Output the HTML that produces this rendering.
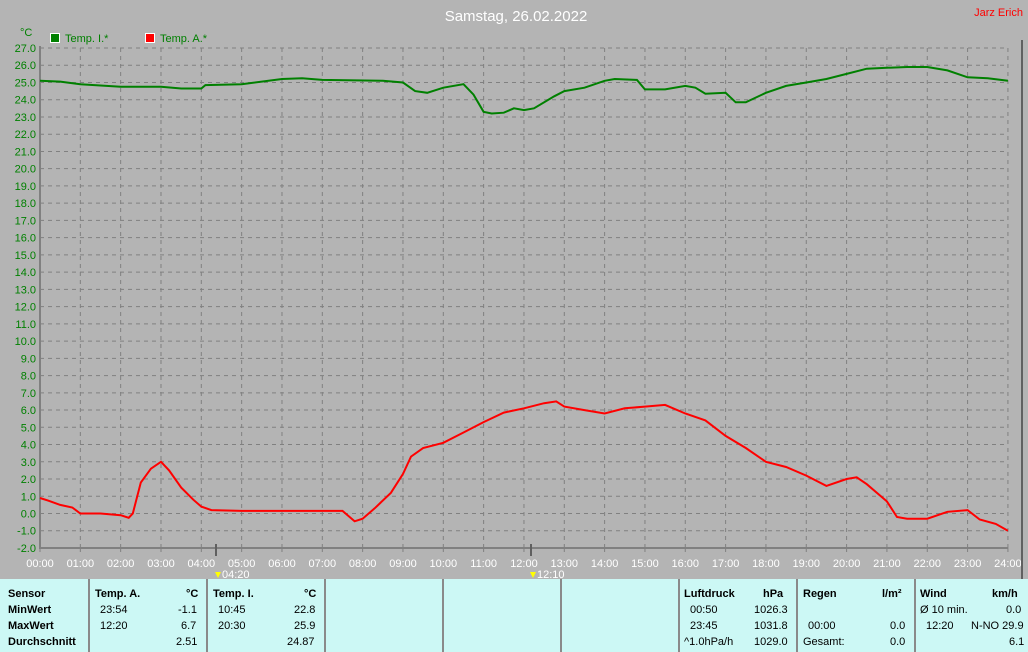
<!DOCTYPE html>
<html><head><meta charset="utf-8"><style>
body{margin:0;width:1028px;height:652px;background:#b4b4b4;overflow:hidden;font-family:"Liberation Sans",sans-serif}
svg{position:absolute;left:0;top:0}
.tb{position:absolute;left:0;top:579px;width:1028px;height:73px;background:#ccf8f5;font-size:11px;color:#000}
.col{position:absolute;top:0;height:73px;border-left:2px solid #8a8a8a}
.r{position:absolute;white-space:nowrap}
.b{font-weight:bold}
</style></head><body>
<svg width="1028" height="580" id="s" font-family="Liberation Sans, sans-serif"></svg>
<div class="tb">
<div class="col" style="left:88px"></div><div class="col" style="left:206px"></div><div class="col" style="left:324px"></div><div class="col" style="left:442px"></div><div class="col" style="left:560px"></div><div class="col" style="left:678px"></div><div class="col" style="left:796px"></div><div class="col" style="left:914px"></div>
<div class="r b" style="left:8px;top:9px">Sensor</div><div class="r b" style="left:8px;top:25px">MinWert</div><div class="r b" style="left:8px;top:41px">MaxWert</div><div class="r b" style="left:8px;top:57px">Durchschnitt</div>
<div class="r b" style="left:95px;top:9px">Temp. A.</div><div class="r b" style="left:186px;top:9px">°C</div>
<div class="r" style="left:100px;top:25px">23:54</div><div class="r" style="left:178px;top:25px">-1.1</div>
<div class="r" style="left:100px;top:41px">12:20</div><div class="r" style="left:181px;top:41px">6.7</div>
<div class="r" style="left:176px;top:57px">2.51</div>
<div class="r b" style="left:213px;top:9px">Temp. I.</div><div class="r b" style="left:304px;top:9px">°C</div>
<div class="r" style="left:218px;top:25px">10:45</div><div class="r" style="left:294px;top:25px">22.8</div>
<div class="r" style="left:218px;top:41px">20:30</div><div class="r" style="left:294px;top:41px">25.9</div>
<div class="r" style="left:287px;top:57px">24.87</div>
<div class="r b" style="left:684px;top:9px">Luftdruck</div><div class="r b" style="left:763px;top:9px">hPa</div>
<div class="r" style="left:690px;top:25px">00:50</div><div class="r" style="left:754px;top:25px">1026.3</div>
<div class="r" style="left:690px;top:41px">23:45</div><div class="r" style="left:754px;top:41px">1031.8</div>
<div class="r" style="left:684px;top:57px">^1.0hPa/h</div><div class="r" style="left:754px;top:57px">1029.0</div>
<div class="r b" style="left:803px;top:9px">Regen</div><div class="r b" style="left:882px;top:9px">l/m²</div>
<div class="r" style="left:808px;top:41px">00:00</div><div class="r" style="left:890px;top:41px">0.0</div>
<div class="r" style="left:803px;top:57px">Gesamt:</div><div class="r" style="left:890px;top:57px">0.0</div>
<div class="r b" style="left:920px;top:9px">Wind</div><div class="r b" style="left:992px;top:9px">km/h</div>
<div class="r" style="left:920px;top:25px">Ø 10 min.</div><div class="r" style="left:1006px;top:25px">0.0</div>
<div class="r" style="left:926px;top:41px">12:20</div><div class="r" style="left:971px;top:41px">N-NO 29.9</div>
<div class="r" style="left:1009px;top:57px">6.1</div>
</div>
<script>
var s=document.getElementById('s'),h='';
function X(t){return 40+t*40.33}function Y(v){return 48+(27-v)*17.241}
for(var i=1;i<=24;i++)h+='<line x1="'+X(i)+'" y1="48" x2="'+X(i)+'" y2="548" stroke="#808080" stroke-dasharray="4,4"/>';
for(var v=-2;v<=27;v++){h+='<line x1="40" y1="'+Y(v)+'" x2="1008" y2="'+Y(v)+'" stroke="#808080" stroke-dasharray="4,4"/>';
h+='<text x="36" y="'+(Y(v)+4)+'" text-anchor="end" font-size="11" fill="#008000">'+v.toFixed(1)+'</text>';}
for(var i=0;i<=24;i++){h+='<line x1="'+X(i)+'" y1="548" x2="'+X(i)+'" y2="552" stroke="#808080"/>';
h+='<text x="'+X(i)+'" y="567" text-anchor="middle" font-size="11" fill="#fff">'+(i<10?'0':'')+i+':00</text>';}
h+='<line x1="40" y1="46" x2="40" y2="549" stroke="#808080" stroke-width="2"/><line x1="39" y1="548" x2="1008" y2="548" stroke="#808080" stroke-width="2"/>';
h+='<line x1="1022" y1="40" x2="1022" y2="580" stroke="#606060" stroke-width="2"/>';
h+='<line x1="216" y1="544" x2="216" y2="556" stroke="#606060" stroke-width="2"/><line x1="531" y1="544" x2="531" y2="556" stroke="#606060" stroke-width="2"/>';
h+='<text x="222" y="578" font-size="11" fill="#fff">04:20</text><text x="537" y="578" font-size="11" fill="#fff">12:10</text>';
h+='<polygon points="218,578 215,572 221,572" fill="#ff0"/><polygon points="533,578 530,572 536,572" fill="#ff0"/>';
h+='<text x="516" y="21" text-anchor="middle" font-size="15" fill="#fff">Samstag, 26.02.2022</text>';
h+='<text x="1023" y="16" text-anchor="end" font-size="11" fill="#f00">Jarz Erich</text>';
h+='<text x="20" y="36" font-size="11" fill="#008000">°C</text>';
h+='<rect x="50.5" y="33.5" width="9" height="9" fill="#008000" stroke="#fff"/><text x="65" y="42" font-size="11" fill="#008000">Temp. I.*</text>';
h+='<rect x="145.5" y="33.5" width="9" height="9" fill="#f00" stroke="#fff"/><text x="160" y="42" font-size="11" fill="#008000">Temp. A.*</text>';
var g=[0,25.1,.5,25.05,1,24.9,2,24.75,3,24.75,3.5,24.65,4,24.65,4.1,24.85,5,24.9,6,25.2,6.5,25.25,7,25.15,8.5,25.1,9,25.0,9.3,24.5,9.6,24.4,10,24.7,10.5,24.9,10.75,24.3,11,23.3,11.2,23.2,11.5,23.25,11.75,23.5,12,23.4,12.25,23.5,12.75,24.2,13,24.5,13.5,24.7,14,25.1,14.25,25.2,14.8,25.15,15,24.6,15.5,24.6,16,24.8,16.25,24.7,16.5,24.35,17,24.4,17.25,23.85,17.5,23.85,18,24.4,18.5,24.8,19,25.0,19.5,25.2,20,25.5,20.5,25.8,21,25.85,21.5,25.9,22,25.9,22.5,25.7,23,25.3,23.5,25.25,24,25.1];
var r=[0,.9,.2,.75,.5,.5,.8,.35,1,0,1.5,0,2,-.1,2.2,-.25,2.3,0,2.5,1.8,2.75,2.6,3,3,3.2,2.5,3.5,1.5,3.8,.8,4,.4,4.25,.2,5,.15,7.5,.15,7.8,-.45,8,-.3,8.3,.3,8.7,1.2,9,2.3,9.2,3.3,9.5,3.8,10,4.1,10.5,4.7,11,5.3,11.5,5.85,12,6.1,12.5,6.4,12.8,6.5,13,6.2,13.5,6,14,5.8,14.5,6.1,15,6.2,15.5,6.3,16,5.8,16.5,5.4,17,4.5,17.5,3.8,18,3,18.5,2.7,19,2.2,19.5,1.6,20,2,20.25,2.1,20.5,1.7,21,.7,21.25,-.2,21.5,-.3,22,-.3,22.5,.1,23,.2,23.3,-.35,23.7,-.6,24,-1];
function pl(a,c){var p='';for(var i=0;i<a.length;i+=2)p+=X(a[i]).toFixed(1)+','+Y(a[i+1]).toFixed(1)+' ';return '<polyline points="'+p+'" fill="none" stroke="'+c+'" stroke-width="2"/>';}
h+=pl(g,'#008000')+pl(r,'#f00');
s.innerHTML=h;
</script>
</body></html>
